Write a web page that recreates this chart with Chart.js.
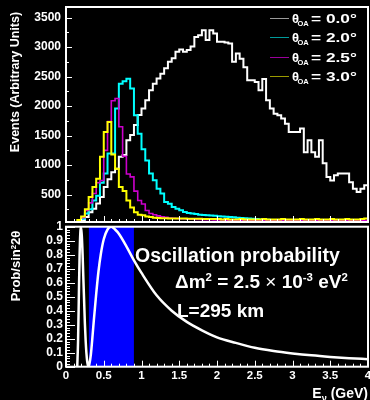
<!DOCTYPE html>
<html>
<head>
<meta charset="utf-8">
<script src="https://cdn.jsdelivr.net/npm/chart.js@4.4.1/dist/chart.umd.min.js"></script>
<style>
  html, body { margin: 0; padding: 0; background: #000; }
  #wrap { position: relative; width: 370px; height: 400px; overflow: hidden; background: #000;
          font-family: 'Liberation Sans', Arial, Helvetica, sans-serif; font-weight: bold; color: #fff; }
  #topBox { position: absolute; left: 0; top: 0; width: 370px; height: 224px; }
  #botBox { position: absolute; left: 0; top: 210px; width: 370px; height: 190px; }
  .txt { position: absolute; white-space: nowrap; line-height: 1; }
  .sup { position: relative; top: -0.55em; font-size: 0.6em; }
  .sub { position: relative; top: 0.35em; font-size: 0.65em; }
  .legLine { position: absolute; height: 1px; width: 19px; left: 270px; }
</style>
</head>
<body>
<div id="wrap">
  <div id="topBox"><canvas id="spectrum" width="370" height="224"></canvas></div>
  <div id="botBox"><canvas id="prob" width="370" height="190"></canvas></div>

  <div class="txt" style="left:15px; top:81.5px; font-size:12.5px; transform:translate(-50%,-50%) rotate(-90deg);">Events (Arbitrary Units)</div>
  <div class="txt" style="left:14.5px; top:266px; font-size:13px; transform:translate(-50%,-50%) rotate(-90deg);">Prob/sin<span class="sup">2</span>2&theta;</div>
  <div class="txt" style="right:2px; top:386px; font-size:14px;">E<span class="sub">&nu;</span> (GeV)</div>

  <div class="txt" style="left:135px; top:245.5px; font-size:19.5px;">Oscillation probability</div>
  <div class="txt" style="left:175px; top:271.5px; font-size:19px;">&Delta;m<span class="sup">2</span> = 2.5 <span style="font-weight:normal">&times;</span> 10<span class="sup">-3</span> eV<span class="sup">2</span></div>
  <div class="txt" style="left:177px; top:300.5px; font-size:19px;">L=295 km</div>

  <div id="legend"></div>
</div>

<script>
// histogram bins (GeV, lower edges), 0.05 GeV wide
const binWidth = 0.05;
const binLow = [
  0.00, 0.05, 0.10, 0.15, 0.20, 0.25, 0.30, 0.35, 0.40, 0.45,
  0.50, 0.55, 0.60, 0.65, 0.70, 0.75, 0.80, 0.85, 0.90, 0.95,
  1.00, 1.05, 1.10, 1.15, 1.20, 1.25, 1.30, 1.35, 1.40, 1.45,
  1.50, 1.55, 1.60, 1.65, 1.70, 1.75, 1.80, 1.85, 1.90, 1.95,
  2.00, 2.05, 2.10, 2.15, 2.20, 2.25, 2.30, 2.35, 2.40, 2.45,
  2.50, 2.55, 2.60, 2.65, 2.70, 2.75, 2.80, 2.85, 2.90, 2.95,
  3.00, 3.05, 3.10, 3.15, 3.20, 3.25, 3.30, 3.35, 3.40, 3.45,
  3.50, 3.55, 3.60, 3.65, 3.70, 3.75, 3.80, 3.85, 3.90, 3.95
];

// events per bin, one list per off-axis angle
const eventsOA00 = [
  0, 0, 5, 20, 60, 120, 200, 260, 350, 460,
  630, 760, 880, 940, 1140, 1170, 1420, 1510, 1680, 1850,
  1960, 2100, 2270, 2380, 2470, 2550, 2640, 2750, 2810, 2920,
  2960, 2920, 2950, 3010, 3170, 3200, 3285, 3120, 3285, 3230,
  3090, 3090, 3080, 3060, 2750, 2890, 2805, 2660, 2440, 2440,
  2410, 2270, 2460, 2100, 1960, 1870, 1845, 1790, 1700, 1560,
  1560, 1560, 1620, 1220, 1420, 1220, 1140, 1420, 1030, 800,
  740, 830, 860, 860, 860, 710, 600, 545, 600, 660
];
const eventsOA20 = [
  0, 5, 15, 40, 90, 180, 250, 400, 480, 700,
  860, 1195, 1195, 1960, 2380, 2420, 2466, 2300, 1844, 1530,
  1270, 1080, 856, 742, 600, 517, 375, 347, 290, 262,
  234, 206, 190, 178, 170, 160, 155, 150, 145, 140,
  135, 130, 125, 120, 115, 110, 105, 100, 95, 90,
  85, 80, 75, 75, 70, 70, 65, 65, 60, 60,
  60, 55, 55, 55, 50, 50, 50, 50, 45, 45,
  45, 45, 45, 40, 45, 40, 40, 45, 40, 50
];
const eventsOA25 = [
  0, 10, 20, 40, 110, 230, 360, 520, 700, 740,
  1250, 1740, 2090, 2130, 1650, 1150, 850, 800, 560, 400,
  340, 230, 180, 160, 140, 125, 115, 105, 100, 95,
  90, 90, 85, 85, 80, 80, 75, 75, 75, 70,
  70, 70, 65, 65, 65, 60, 60, 60, 60, 55,
  55, 55, 60, 55, 55, 55, 60, 55, 55, 55,
  55, 60, 55, 55, 55, 60, 55, 55, 60, 55,
  55, 55, 60, 55, 55, 60, 55, 55, 60, 60
];
const eventsOA30 = [
  0, 10, 30, 70, 130, 250, 460, 630, 770, 1140,
  1560, 1730, 1180, 940, 630, 560, 400, 280, 200, 160,
  150, 130, 120, 110, 105, 100, 100, 95, 95, 95,
  95, 95, 90, 90, 90, 90, 85, 85, 85, 85,
  85, 80, 85, 80, 80, 80, 85, 80, 80, 80,
  80, 80, 85, 80, 80, 80, 80, 85, 80, 80,
  80, 80, 85, 80, 80, 80, 85, 80, 80, 80,
  85, 80, 80, 80, 85, 80, 80, 80, 85, 95
];

const angleLabels = ['0.0', '2.0', '2.5', '3.0'];
const lineColors = ['#ffffff', '#00ffff', '#cc00cc', '#ffff00'];
const legendColors = ['#9a9a9a', '#009a9a', '#9a009a', '#9a9a00'];

// axis tick labels
const eventTicks = [500, 1000, 1500, 2000, 2500, 3000, 3500];
const energyTicks = [0, 0.5, 1, 1.5, 2, 2.5, 3, 3.5, 4];
const probTicks = [0, 0.1, 0.2, 0.3, 0.4, 0.5, 0.6, 0.7, 0.8, 0.9, 1];

// oscillation probability
const oscEnergy = [
  0.149, 0.16, 0.17, 0.18, 0.19, 0.198, 0.21, 0.22, 0.23, 0.24,
  0.25, 0.26, 0.27, 0.28, 0.29, 0.297, 0.31, 0.33, 0.35, 0.37,
  0.40, 0.43, 0.46, 0.50, 0.55, 0.60, 0.65, 0.70, 0.80, 0.90,
  1.0, 1.2, 1.4, 1.6, 1.8, 2.0, 2.25, 2.5, 2.75, 3.0,
  3.25, 3.5, 3.75, 4.0
];
const oscProb = [
  0, 0.19, 0.50, 0.79, 0.96, 1.0, 0.93, 0.80, 0.63, 0.47,
  0.31, 0.19, 0.10, 0.04, 0.01, 0, 0.02, 0.09, 0.21, 0.34,
  0.52, 0.68, 0.80, 0.91, 0.98, 1.0, 0.98, 0.95, 0.86, 0.76,
  0.67, 0.51, 0.40, 0.32, 0.26, 0.21, 0.17, 0.135, 0.112, 0.095,
  0.081, 0.07, 0.061, 0.054
];
const bandEnergy = [0.3, 0.9];
const bandProb = 1;

Chart.defaults.font.family = "'Liberation Sans', Arial, Helvetica, sans-serif";
Chart.defaults.font.weight = 'bold';
Chart.defaults.color = '#fff';

// ROOT style frame with inward ticks
const frameTicks = {
  id: 'frameTicks',
  afterDatasetsDraw(chart, args, opts) {
    const { ctx, chartArea: area, scales } = chart;
    ctx.save();
    ctx.strokeStyle = '#fff';
    ctx.lineWidth = 1;
    ctx.beginPath();
    (opts.ticks || []).forEach(t => {
      const scale = scales[t.axis];
      const first = Math.ceil(scale.min / t.minor - 1e-6);
      const last = Math.floor(scale.max / t.minor + 1e-6);
      for (let k = first; k <= last; k++) {
        const v = k * t.minor;
        const r = v / t.major;
        const len = Math.abs(r - Math.round(r)) < 1e-6 ? t.majorLen : t.minorLen;
        const p = Math.round(scale.getPixelForValue(v)) + 0.5;
        if (t.axis === 'x') {
          ctx.moveTo(p, area.bottom);
          ctx.lineTo(p, area.bottom - len);
        } else {
          ctx.moveTo(area.left, p);
          ctx.lineTo(area.left + len, p);
        }
      }
    });
    ctx.stroke();
    ctx.lineWidth = 2;
    ctx.strokeRect(area.left, area.top, area.right - area.left, area.bottom - area.top);
    ctx.restore();
  }
};

function histPoints(values) {
  const pts = binLow.map((x, i) => ({ x: x, y: values[i] }));
  pts.push({ x: binLow[binLow.length - 1] + binWidth, y: values[values.length - 1] });
  return pts;
}

const series = [eventsOA00, eventsOA20, eventsOA25, eventsOA30];

new Chart(document.getElementById('spectrum'), {
  type: 'line',
  data: {
    datasets: series.map((vals, i) => ({
      label: angleLabels[i],
      data: histPoints(vals),
      borderColor: lineColors[i],
      borderWidth: i === 2 ? 1.6 : 2,
      stepped: true,
      pointRadius: 0,
      fill: false,
      order: series.length - i
    }))
  },
  options: {
    responsive: false,
    animation: false,
    devicePixelRatio: 1,
    layout: { padding: { left: 0, right: 2, top: 7, bottom: 2 } },
    plugins: {
      legend: { display: false },
      tooltip: { enabled: false },
      frameTicks: {
        ticks: [
          { axis: 'x', minor: 0.1, major: 0.5, minorLen: 3, majorLen: 6 },
          { axis: 'y', minor: 250, major: 500, minorLen: 3, majorLen: 6 }
        ]
      }
    },
    scales: {
      x: {
        type: 'linear', min: 0, max: 4,
        grid: { display: false }, border: { display: false },
        ticks: { display: false },
        afterFit(s) { s.height = 0; s.paddingLeft = 0; s.paddingRight = 0; }
      },
      y: {
        min: 36, max: 3680,
        grid: { display: false, drawTicks: false }, border: { display: false },
        afterBuildTicks(s) { s.ticks = eventTicks.map(v => ({ value: v })); },
        ticks: {
          autoSkip: false, padding: 5,
          font: { size: 12, weight: 'bold' },
          callback: v => String(v)
        },
        afterFit(s) { s.width = 66; s.paddingTop = 0; s.paddingBottom = 0; }
      }
    }
  },
  plugins: [frameTicks]
});

new Chart(document.getElementById('prob'), {
  type: 'line',
  data: {
    datasets: [
      {
        label: 'P',
        data: oscEnergy.map((e, i) => ({ x: e, y: oscProb[i] })),
        borderColor: '#fff',
        borderWidth: 2.5,
        cubicInterpolationMode: 'monotone',
        pointRadius: 0,
        fill: false,
        order: 1
      },
      {
        label: 'band',
        data: bandEnergy.map(e => ({ x: e, y: bandProb })),
        borderWidth: 0,
        pointRadius: 0,
        backgroundColor: '#0000ff',
        fill: 'origin',
        order: 2
      }
    ]
  },
  options: {
    responsive: false,
    animation: false,
    devicePixelRatio: 1,
    layout: { padding: { left: 0, right: 2, top: 16.7, bottom: 0 } },
    plugins: {
      legend: { display: false },
      tooltip: { enabled: false },
      frameTicks: {
        ticks: [
          { axis: 'x', minor: 0.1, major: 0.5, minorLen: 3, majorLen: 6 },
          { axis: 'y', minor: 0.02, major: 0.1, minorLen: 4, majorLen: 9 }
        ]
      }
    },
    scales: {
      x: {
        type: 'linear', min: 0, max: 4,
        grid: { display: false, drawTicks: false }, border: { display: false },
        afterBuildTicks(s) { s.ticks = energyTicks.map(v => ({ value: v })); },
        ticks: {
          padding: 2, autoSkip: false, maxRotation: 0,
          font: { size: 11.5, weight: 'bold' },
          callback: v => String(v)
        },
        afterFit(s) { s.height = 33.3; s.paddingLeft = 0; s.paddingRight = 0; }
      },
      y: {
        min: 0, max: 1,
        grid: { display: false, drawTicks: false }, border: { display: false },
        afterBuildTicks(s) { s.ticks = probTicks.map(v => ({ value: v })); },
        ticks: {
          padding: 3, autoSkip: false,
          font: { size: 12, weight: 'bold' },
          callback: v => String(v)
        },
        afterFit(s) { s.width = 66; s.paddingTop = 0; s.paddingBottom = 0; }
      }
    }
  },
  plugins: [frameTicks]
});

// legend (theta with OA subscript)
const legend = document.getElementById('legend');
const legendBaselines = [23, 42.3, 61.7, 81];
angleLabels.forEach((lab, i) => {
  const b = legendBaselines[i];
  const line = document.createElement('div');
  line.className = 'legLine';
  line.style.top = (b - 5) + 'px';
  line.style.background = legendColors[i];
  legend.appendChild(line);

  const th = document.createElement('div');
  th.className = 'txt';
  th.style.cssText = 'left:292px; top:' + (b - 11) + 'px; font-size:13px;';
  th.textContent = '\u03B8';
  legend.appendChild(th);

  const sub = document.createElement('div');
  sub.className = 'txt';
  sub.style.cssText = 'left:297.5px; top:' + (b - 3) + 'px; font-size:7.5px;';
  sub.textContent = 'OA';
  legend.appendChild(sub);

  const val = document.createElement('div');
  val.className = 'txt';
  val.style.cssText = 'left:311px; top:' + (b - 11) + 'px; font-size:13px; transform:scaleX(1.33); transform-origin:left center;';
  val.textContent = '= ' + lab + '\u00B0';
  legend.appendChild(val);
});
</script>
</body>
</html>
